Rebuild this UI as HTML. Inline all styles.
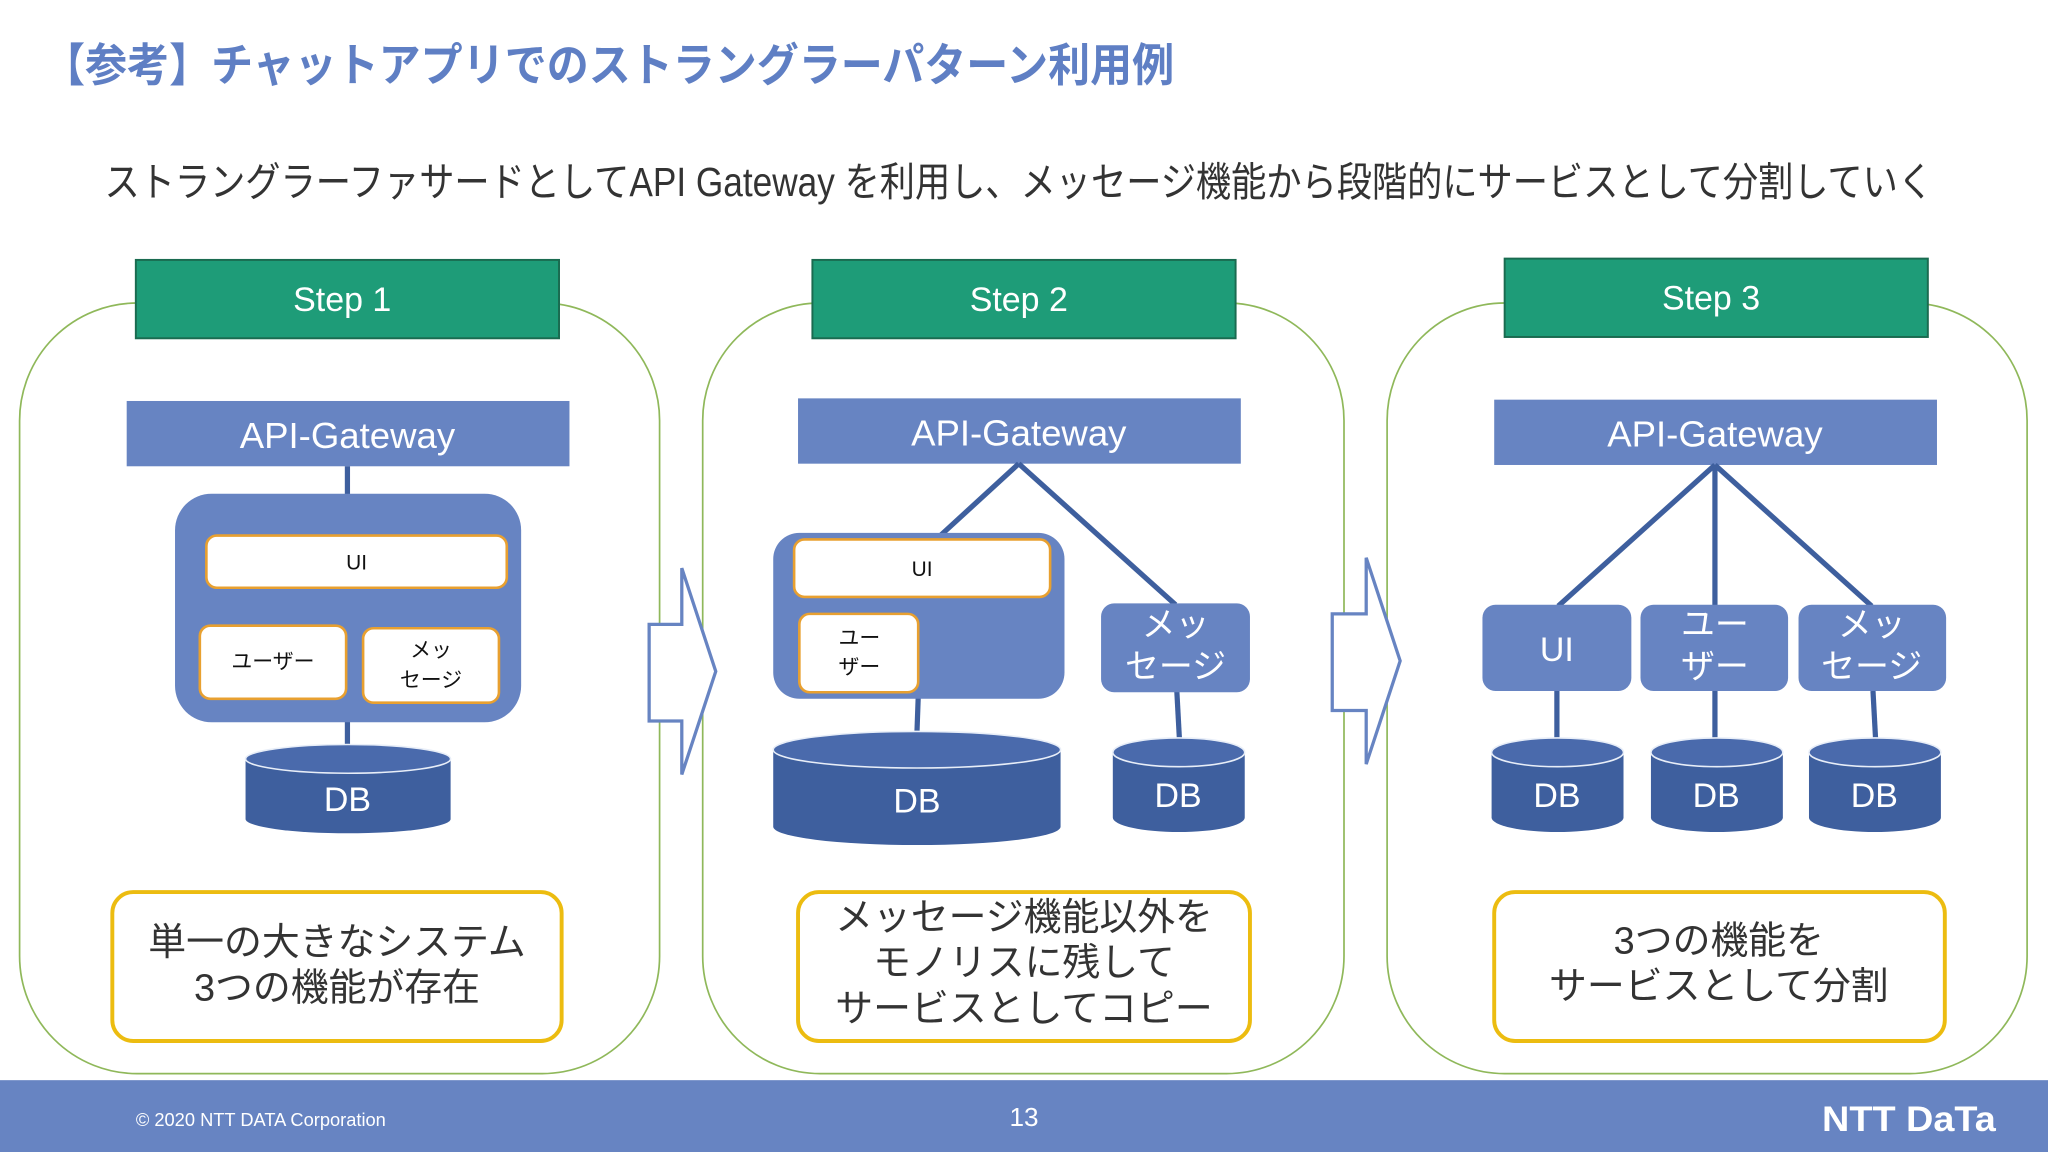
<!DOCTYPE html>
<html><head><meta charset="utf-8"><style>
html,body{margin:0;padding:0;background:#fff;}
svg{display:block}
text{font-family:"Liberation Sans","Noto Sans CJK JP",sans-serif;}
</style></head><body>
<svg width="2048" height="1152" viewBox="0 0 1568 882" xmlns="http://www.w3.org/2000/svg">
<rect width="1568" height="882" fill="#fff"/>
<text x="33" y="62" font-size="35" font-weight="bold" fill="#5f7fc4" textLength="866" lengthAdjust="spacingAndGlyphs">【参考】チャットアプリでのストラングラーパターン利用例</text>
<text x="80" y="150" font-size="31" fill="#333" textLength="1400" lengthAdjust="spacingAndGlyphs">ストラングラーファサードとしてAPI Gateway を利用し、メッセージ機能から段階的にサービスとして分割していく</text>

<g fill="none" stroke="#8fb85a" stroke-width="1.3">
<rect x="15" y="232" width="490" height="590" rx="90"/>
<rect x="538" y="232" width="491" height="590" rx="90"/>
<rect x="1062" y="232" width="490" height="590" rx="90"/>
</g>
<g fill="#1e9c78" stroke="#1a6b50" stroke-width="1.5">
<rect x="104" y="199" width="324" height="60"/>
<rect x="622" y="199" width="324" height="60"/>
<rect x="1152" y="198" width="324" height="60"/>
</g>
<g fill="#fff" font-size="26" text-anchor="middle">
<text x="262" y="238">Step 1</text>
<text x="780" y="238">Step 2</text>
<text x="1310" y="237">Step 3</text>
</g>
<g fill="#6784c2">
<rect x="97" y="307" width="339" height="50"/>
<rect x="611" y="305" width="339" height="50"/>
<rect x="1144" y="306" width="339" height="50"/>
</g>
<g fill="#fff" font-size="28" text-anchor="middle">
<text x="266" y="343">API-Gateway</text>
<text x="780" y="341">API-Gateway</text>
<text x="1313" y="342">API-Gateway</text>
</g>

<g stroke="#3e5f9e" stroke-width="4" fill="none">
<line x1="266" y1="357" x2="266" y2="380"/>
<line x1="266" y1="552" x2="266" y2="572"/>
<line x1="780" y1="355" x2="720" y2="410"/>
<line x1="780" y1="355" x2="900" y2="463"/>
<line x1="703" y1="534" x2="702" y2="562"/>
<line x1="901" y1="529" x2="903" y2="566"/>
<line x1="1313" y1="356" x2="1193" y2="464"/>
<line x1="1313" y1="356" x2="1313" y2="464"/>
<line x1="1313" y1="356" x2="1433" y2="464"/>
<line x1="1192" y1="529" x2="1192" y2="566"/>
<line x1="1313" y1="529" x2="1313" y2="566"/>
<line x1="1434" y1="529" x2="1436" y2="566"/>
</g>

<!-- panel1 -->
<rect x="134" y="378" width="265" height="175" rx="28" fill="#6784c2"/>
<g fill="#fff" stroke="#e8a030" stroke-width="2">
<rect x="158" y="410" width="230" height="40" rx="8"/>
<rect x="153" y="479" width="112" height="56" rx="8"/>
<rect x="278" y="481" width="104" height="57" rx="8"/>
</g>
<g fill="#111" font-size="16" text-anchor="middle">
<text x="273" y="436">UI</text>
<text x="209" y="512">ユーザー</text>
<text x="330" y="503">メッ</text>
<text x="330" y="526">セージ</text>
</g>

<!-- panel2 -->
<rect x="592" y="408" width="223" height="127" rx="20" fill="#6784c2"/>
<g fill="#fff" stroke="#e8a030" stroke-width="2">
<rect x="608" y="413" width="196" height="44" rx="8"/>
<rect x="612" y="470" width="91" height="60" rx="8"/>
</g>
<g fill="#111" font-size="16" text-anchor="middle">
<text x="706" y="441">UI</text>
<text x="658" y="494">ユー</text>
<text x="658" y="516">ザー</text>
</g>
<g fill="#6784c2">
<rect x="843" y="462" width="114" height="68" rx="10"/>
<rect x="1135" y="463" width="114" height="66" rx="10"/>
<rect x="1256" y="463" width="113" height="66" rx="10"/>
<rect x="1377" y="463" width="113" height="66" rx="10"/>
</g>
<g fill="#fff" font-size="26" text-anchor="middle">
<text x="900" y="487">メッ</text>
<text x="900" y="519">セージ</text>
<text x="1192" y="506">UI</text>
<text x="1313" y="487">ユー</text>
<text x="1313" y="519">ザー</text>
<text x="1433" y="487">メッ</text>
<text x="1433" y="519">セージ</text>
</g>

<!-- DBs -->
<g fill="#3e5f9e">
<path d="M188,581 A78.5,11 0 0 1 345,581 V627 A78.5,11 0 0 1 188,627 Z"/>
<path d="M592,574 A110,14 0 0 1 812,574 V633 A110,14 0 0 1 592,633 Z"/>
<path d="M852,576 A50.5,11 0 0 1 953,576 V626 A50.5,11 0 0 1 852,626 Z"/>
<path d="M1142,576 A50.5,11 0 0 1 1243,576 V626 A50.5,11 0 0 1 1142,626 Z"/>
<path d="M1264,576 A50.5,11 0 0 1 1365,576 V626 A50.5,11 0 0 1 1264,626 Z"/>
<path d="M1385,576 A50.5,11 0 0 1 1486,576 V626 A50.5,11 0 0 1 1385,626 Z"/>
</g>
<g fill="#4a6aac" stroke="#e8eef8" stroke-width="1.2">
<ellipse cx="266.5" cy="581" rx="78.5" ry="11"/>
<ellipse cx="702" cy="574" rx="110" ry="14"/>
<ellipse cx="902.5" cy="576" rx="50.5" ry="11"/>
<ellipse cx="1192.5" cy="576" rx="50.5" ry="11"/>
<ellipse cx="1314.5" cy="576" rx="50.5" ry="11"/>
<ellipse cx="1435.5" cy="576" rx="50.5" ry="11"/>
</g>
<g fill="#fff" font-size="26" text-anchor="middle">
<text x="266" y="621">DB</text>
<text x="702" y="622">DB</text>
<text x="902" y="618">DB</text>
<text x="1192" y="618">DB</text>
<text x="1314" y="618">DB</text>
<text x="1435" y="618">DB</text>
</g>

<!-- arrows -->
<g fill="#fff" stroke="#6784c2" stroke-width="2.5">
<path d="M497,478 H522 V435 L548,514 L522,593 V552 H497 Z"/>
<path d="M1020,470 H1046 V427 L1072,506 L1046,585 V544 H1020 Z"/>
</g>

<!-- text boxes -->
<g fill="#fff" stroke="#ecbc10" stroke-width="3">
<rect x="86" y="683" width="344" height="114" rx="16"/>
<rect x="611" y="683" width="346" height="114" rx="16"/>
<rect x="1144" y="683" width="345" height="114" rx="16"/>
</g>
<g fill="#333" font-size="29" text-anchor="middle">
<text x="258" y="731">単一の大きなシステム</text>
<text x="258" y="766">3つの機能が存在</text>
<text x="784" y="712">メッセージ機能以外を</text>
<text x="784" y="747">モノリスに残して</text>
<text x="784" y="782">サービスとしてコピー</text>
<text x="1316" y="730">3つの機能を</text>
<text x="1316" y="765">サービスとして分割</text>
</g>

<!-- footer -->
<rect x="0" y="827" width="1568" height="55" fill="#6784c2"/>
<text x="104" y="862" font-size="14" fill="#fff">© 2020 NTT DATA Corporation</text>
<text x="784" y="862" font-size="20" fill="#fff" text-anchor="middle">13</text>
<text x="1395" y="866" font-size="27" font-weight="bold" fill="#fff" textLength="133" lengthAdjust="spacingAndGlyphs">NTT DaTa</text>
</svg>
</body></html>
